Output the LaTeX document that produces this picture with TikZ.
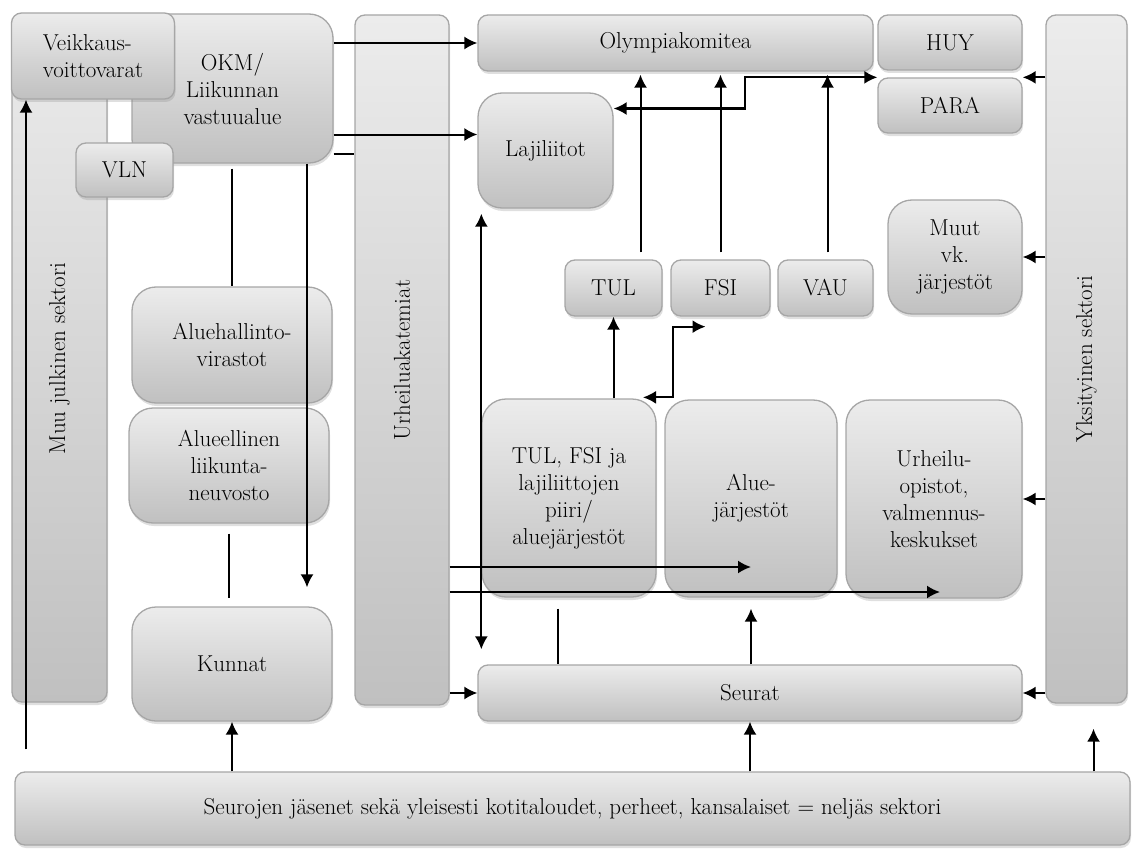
\documentclass[tikz,border=0pt]{standalone}
\usepackage{tikz}
\usetikzlibrary{arrows.meta}
\usetikzlibrary{shadows}

\definecolor{boxtop}{RGB}{236,236,236}
\definecolor{boxbot}{RGB}{192,192,192}
\definecolor{boxline}{RGB}{166,166,166}

\begin{document}
\begin{tikzpicture}[x=1pt, y=-1pt,
  font=\fontsize{23}{27}\selectfont,
  blk/.style={draw=boxline, line width=1.3pt, top color=boxtop, bottom color=boxbot,
    rounded corners=10pt, inner sep=0pt, align=center, text=black,
    drop shadow={shadow xshift=1pt, shadow yshift=-3pt, opacity=0.25}},
  big/.style={blk, rounded corners=24pt},
  dims/.style 2 args={minimum width=#1pt, minimum height=#2pt},
  link/.style={line width=2pt},
  >={Latex[length=13pt, width=13pt]}]
  \useasboundingbox (0,0) rectangle (1136,851);

  % julkinen puoli
  \node [blk, dims={95}{687}, label={[rotate=90]center:Muu julkinen sektori}] (muu) at (59.5,358.5) {};
  \node [big, dims={201}{149}] (okm) at (232.5,88.5) {OKM/\\Liikunnan\\vastuualue};
  \node [blk, dims={163}{86}, align=left, text depth=-6pt] (veik) at (93,56) {Veikkaus-\\voittovarat};
  \node [blk, dims={97}{54}] (vln) at (124.5,170) {VLN};
  \node [big, dims={200}{116}] (aluehal) at (232,345) {Aluehallinto-\\virastot};
  \node [big, dims={200}{115}] (alueel) at (229,465.5) {Alueellinen\\liikunta-\\neuvosto};
  \node [big, dims={200}{114}] (kunnat) at (232,664) {Kunnat};
  \node [blk, dims={94}{690}, label={[rotate=90]center:Urheiluakatemiat}] (akat) at (402,360) {};

  % jarjestot
  \node [blk, dims={395}{56}] (olymp) at (675.5,43) {Olympiakomitea};
  \node [blk, dims={144}{55}] (huy) at (950,42.5) {HUY};
  \node [blk, dims={144}{55}] (para) at (950,105.5) {PARA};
  \node [big, dims={135}{115}] (laji) at (545.5,150.5) {Lajiliitot};
  \node [blk, dims={97}{56}] (tul) at (613.5,288) {TUL};
  \node [blk, dims={99}{56}] (fsi) at (720.5,288) {FSI};
  \node [blk, dims={95}{56}] (vau) at (825.5,288) {VAU};
  \node [big, dims={134}{114}] (muut) at (955,257) {Muut\\vk.\\järjestöt};
  \node [big, dims={174}{198}] (piiri) at (569,498) {TUL, FSI ja\\lajiliittojen\\piiri/\\aluejärjestöt};
  \node [big, dims={172}{197}] (aluej) at (751,498.5) {Alue-\\järjestöt};
  \node [big, dims={176}{198}] (opist) at (934,499) {Urheilu-\\opistot,\\valmennus-\\keskukset};
  \node [blk, dims={544}{56}] (seurat) at (750,693) {Seurat};
  \node [blk, dims={81}{688}, label={[rotate=90]center:Yksityinen sektori}] (yks) at (1086.5,359) {};
  \node [blk, dims={1115}{73}] (jas) at (572.5,808.5) {Seurojen jäsenet sekä yleisesti kotitaloudet, perheet, kansalaiset = neljäs sektori};

  \coordinate (lajiin) at ([yshift=16pt]laji.west);
  \coordinate (okmlow) at ([yshift=-65pt]okm.east);
  \coordinate (kunnatin) at ([xshift=75pt,yshift=19pt]kunnat.north);
  \coordinate (alueelfoot) at ([yshift=-10pt]alueel.south);
  \coordinate (veikin) at ([xshift=-67pt]veik.south);
  \coordinate (akatmid) at ([yshift=-207pt]akat.east);
  \coordinate (akatlow) at ([yshift=-232pt]akat.east);
  \coordinate (lajifoot) at ([xshift=4pt,yshift=-5pt]laji.south west);
  \coordinate (seurattop) at ([xshift=4pt,yshift=15pt]seurat.north west);
  \coordinate (piirilow) at ([xshift=-11pt,yshift=-11pt]piiri.south);
  \coordinate (aluejfoot) at ([yshift=-11pt]aluej.south);
  \coordinate (yksin) at ([xshift=7pt,yshift=-25pt]yks.south);
  \coordinate (piirir) at ([xshift=74pt,yshift=1pt]piiri.north);
  \coordinate (fsiin) at ([xshift=-15pt,yshift=-10pt]fsi.south);
  \coordinate (tulup) at ([xshift=27pt,yshift=7pt]tul.north);
  \coordinate (fsiup) at ([yshift=7pt]fsi.north);
  \coordinate (vauup) at ([xshift=2pt,yshift=7pt]vau.north);
  \coordinate (lajiout) at ([yshift=42pt]laji.east);

  % rahoitus ja ohjaus
  \draw [link, ->] (okm.east |- olymp.west) -- (olymp.west);
  \draw [link, ->] (okm.east |- lajiin) -- (lajiin);
  \draw [link] (okmlow) -- (okmlow -| akat.west);
  \draw [link] ([yshift=-5pt]okm.south -| aluehal.north) -- (aluehal.north);
  \draw [link, ->] (okm.south -| kunnatin) -- (kunnatin);
  \draw [link] (alueelfoot) -- ([yshift=8pt]kunnat.north -| alueelfoot);
  \draw [link, ->] (jas.north -| kunnat.south) -- (kunnat.south);
  \draw [link, ->] ([yshift=22pt]jas.north -| veikin) -- (veikin);

  \draw [link, ->] (akatmid) -- (akatmid -| aluej);
  \draw [link, ->] (akatlow) -- ([xshift=6pt]akatlow -| opist);
  \draw [link, ->] (akat.east |- seurat.west) -- (seurat.west);

  \draw [link, <->] (lajifoot) -- (seurattop);
  \draw [link] (piirilow) -- (piirilow |- seurat.north);
  \draw [link, ->] (seurat.north -| aluej.south) -- (aluejfoot);
  \draw [link, ->] (jas.north -| seurat.south) -- (seurat.south);
  \draw [link, ->] (jas.north -| yksin) -- (yksin);

  \draw [link, ->] (piiri.north -| tul.south) -- (tul.south);
  \draw [link, <->] (piirir) -- ++(30,0) |- (fsiin);
  \draw [link, ->, shorten >=3pt] (tulup) -- (olymp.south -| tulup);
  \draw [link, ->, shorten >=3pt] (fsiup) -- (olymp.south -| fsiup);
  \draw [link, ->, shorten >=3pt] (vauup) -- (olymp.south -| vauup);
  \draw [link, <->] (lajiout) -- ++(131,0) |- (para.north west);

  % yksityinen sektori
  \draw [link, ->] (yks.west |- para.north) -- (para.north east);
  \draw [link, ->] (yks.west |- muut.east) -- (muut.east);
  \draw [link, ->] (yks.west |- opist.east) -- (opist.east);
  \draw [link, ->] (yks.west |- seurat.east) -- (seurat.east);
\end{tikzpicture}
\end{document}
